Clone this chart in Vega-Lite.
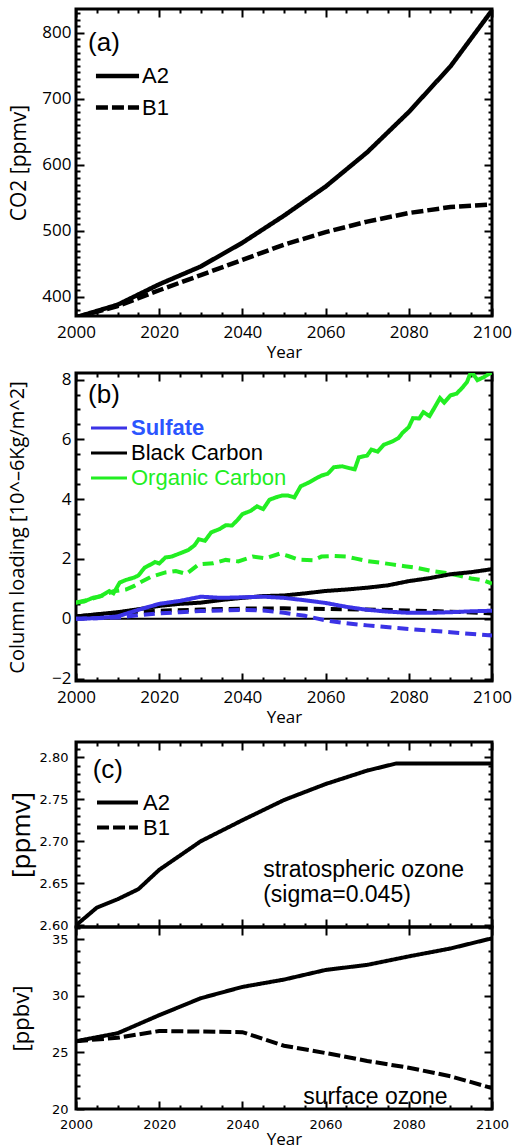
{
  "$schema": "https://vega.github.io/schema/vega-lite/v6.json",
  "padding": {"left": 6, "top": 6, "right": 0, "bottom": 0},
  "config": {
    "view": {"stroke": "black", "strokeWidth": 3},
    "axis": {"domain": false, "grid": false, "ticks": true, "tickColor": "black", "tickWidth": 2, "labelFont": "Open Sans", "labelFontSize": 17, "labelColor": "black", "labelFlush": false, "labelOverlap": false, "titleFont": "Open Sans", "titleFontSize": 21, "titleFontWeight": "normal", "titleColor": "black"},
    "axisX": {"titleFontSize": 17, "labelAngle": 0},
    "legend": {"padding": 0, "labelColor": "black"}
  },
  "datasets": {
    "co2": [
      {"scenario": "A2", "year": 2000, "value": 369}, {"scenario": "A2", "year": 2010, "value": 388}, {"scenario": "A2", "year": 2020, "value": 419}, {"scenario": "A2", "year": 2030, "value": 446}, {"scenario": "A2", "year": 2040, "value": 482}, {"scenario": "A2", "year": 2050, "value": 523}, {"scenario": "A2", "year": 2060, "value": 567}, {"scenario": "A2", "year": 2070, "value": 619}, {"scenario": "A2", "year": 2080, "value": 680}, {"scenario": "A2", "year": 2090, "value": 749}, {"scenario": "A2", "year": 2100, "value": 834},
      {"scenario": "B1", "year": 2000, "value": 369}, {"scenario": "B1", "year": 2010, "value": 386}, {"scenario": "B1", "year": 2020, "value": 410}, {"scenario": "B1", "year": 2030, "value": 433}, {"scenario": "B1", "year": 2040, "value": 456}, {"scenario": "B1", "year": 2050, "value": 479}, {"scenario": "B1", "year": 2060, "value": 498}, {"scenario": "B1", "year": 2070, "value": 514}, {"scenario": "B1", "year": 2080, "value": 527}, {"scenario": "B1", "year": 2090, "value": 536}, {"scenario": "B1", "year": 2100, "value": 540}
    ],
    "aer": [
      {"species": "Organic Carbon", "scenario": "A2", "year": 2000, "value": 0.54}, {"species": "Organic Carbon", "scenario": "A2", "year": 2002, "value": 0.58}, {"species": "Organic Carbon", "scenario": "A2", "year": 2004, "value": 0.7}, {"species": "Organic Carbon", "scenario": "A2", "year": 2006, "value": 0.76}, {"species": "Organic Carbon", "scenario": "A2", "year": 2008, "value": 0.93}, {"species": "Organic Carbon", "scenario": "A2", "year": 2009, "value": 0.85}, {"species": "Organic Carbon", "scenario": "A2", "year": 2010.5, "value": 1.21}, {"species": "Organic Carbon", "scenario": "A2", "year": 2012, "value": 1.3}, {"species": "Organic Carbon", "scenario": "A2", "year": 2014, "value": 1.38}, {"species": "Organic Carbon", "scenario": "A2", "year": 2015, "value": 1.45}, {"species": "Organic Carbon", "scenario": "A2", "year": 2016.5, "value": 1.71}, {"species": "Organic Carbon", "scenario": "A2", "year": 2018, "value": 1.82}, {"species": "Organic Carbon", "scenario": "A2", "year": 2019, "value": 1.9}, {"species": "Organic Carbon", "scenario": "A2", "year": 2020, "value": 1.85}, {"species": "Organic Carbon", "scenario": "A2", "year": 2021.5, "value": 2.05}, {"species": "Organic Carbon", "scenario": "A2", "year": 2023, "value": 2.08}, {"species": "Organic Carbon", "scenario": "A2", "year": 2025, "value": 2.19}, {"species": "Organic Carbon", "scenario": "A2", "year": 2027, "value": 2.3}, {"species": "Organic Carbon", "scenario": "A2", "year": 2028.5, "value": 2.46}, {"species": "Organic Carbon", "scenario": "A2", "year": 2029.5, "value": 2.66}, {"species": "Organic Carbon", "scenario": "A2", "year": 2031, "value": 2.61}, {"species": "Organic Carbon", "scenario": "A2", "year": 2032.5, "value": 2.89}, {"species": "Organic Carbon", "scenario": "A2", "year": 2034.5, "value": 3.0}, {"species": "Organic Carbon", "scenario": "A2", "year": 2036, "value": 3.13}, {"species": "Organic Carbon", "scenario": "A2", "year": 2037.5, "value": 3.12}, {"species": "Organic Carbon", "scenario": "A2", "year": 2039, "value": 3.33}, {"species": "Organic Carbon", "scenario": "A2", "year": 2040, "value": 3.5}, {"species": "Organic Carbon", "scenario": "A2", "year": 2042, "value": 3.61}, {"species": "Organic Carbon", "scenario": "A2", "year": 2043.5, "value": 3.76}, {"species": "Organic Carbon", "scenario": "A2", "year": 2045, "value": 3.67}, {"species": "Organic Carbon", "scenario": "A2", "year": 2046.5, "value": 3.98}, {"species": "Organic Carbon", "scenario": "A2", "year": 2048, "value": 4.06}, {"species": "Organic Carbon", "scenario": "A2", "year": 2049.5, "value": 4.12}, {"species": "Organic Carbon", "scenario": "A2", "year": 2051, "value": 4.12}, {"species": "Organic Carbon", "scenario": "A2", "year": 2052.5, "value": 4.06}, {"species": "Organic Carbon", "scenario": "A2", "year": 2054, "value": 4.43}, {"species": "Organic Carbon", "scenario": "A2", "year": 2056, "value": 4.56}, {"species": "Organic Carbon", "scenario": "A2", "year": 2057.5, "value": 4.68}, {"species": "Organic Carbon", "scenario": "A2", "year": 2059, "value": 4.79}, {"species": "Organic Carbon", "scenario": "A2", "year": 2060.5, "value": 4.85}, {"species": "Organic Carbon", "scenario": "A2", "year": 2062, "value": 5.07}, {"species": "Organic Carbon", "scenario": "A2", "year": 2064, "value": 5.1}, {"species": "Organic Carbon", "scenario": "A2", "year": 2066, "value": 5.03}, {"species": "Organic Carbon", "scenario": "A2", "year": 2067, "value": 5.0}, {"species": "Organic Carbon", "scenario": "A2", "year": 2068, "value": 5.4}, {"species": "Organic Carbon", "scenario": "A2", "year": 2070, "value": 5.46}, {"species": "Organic Carbon", "scenario": "A2", "year": 2071, "value": 5.66}, {"species": "Organic Carbon", "scenario": "A2", "year": 2072.5, "value": 5.59}, {"species": "Organic Carbon", "scenario": "A2", "year": 2074, "value": 5.82}, {"species": "Organic Carbon", "scenario": "A2", "year": 2076, "value": 5.93}, {"species": "Organic Carbon", "scenario": "A2", "year": 2077.5, "value": 6.04}, {"species": "Organic Carbon", "scenario": "A2", "year": 2078.5, "value": 6.22}, {"species": "Organic Carbon", "scenario": "A2", "year": 2080, "value": 6.41}, {"species": "Organic Carbon", "scenario": "A2", "year": 2081, "value": 6.71}, {"species": "Organic Carbon", "scenario": "A2", "year": 2082.5, "value": 6.7}, {"species": "Organic Carbon", "scenario": "A2", "year": 2083.5, "value": 6.91}, {"species": "Organic Carbon", "scenario": "A2", "year": 2085, "value": 6.78}, {"species": "Organic Carbon", "scenario": "A2", "year": 2086, "value": 7.02}, {"species": "Organic Carbon", "scenario": "A2", "year": 2087.5, "value": 7.38}, {"species": "Organic Carbon", "scenario": "A2", "year": 2088.5, "value": 7.23}, {"species": "Organic Carbon", "scenario": "A2", "year": 2090, "value": 7.47}, {"species": "Organic Carbon", "scenario": "A2", "year": 2091.5, "value": 7.53}, {"species": "Organic Carbon", "scenario": "A2", "year": 2093, "value": 7.75}, {"species": "Organic Carbon", "scenario": "A2", "year": 2094, "value": 7.92}, {"species": "Organic Carbon", "scenario": "A2", "year": 2095, "value": 8.28}, {"species": "Organic Carbon", "scenario": "A2", "year": 2096.5, "value": 7.98}, {"species": "Organic Carbon", "scenario": "A2", "year": 2098, "value": 8.08}, {"species": "Organic Carbon", "scenario": "A2", "year": 2100, "value": 8.25},
      {"species": "Organic Carbon", "scenario": "B1", "year": 2000, "value": 0.54}, {"species": "Organic Carbon", "scenario": "B1", "year": 2003, "value": 0.64}, {"species": "Organic Carbon", "scenario": "B1", "year": 2006, "value": 0.76}, {"species": "Organic Carbon", "scenario": "B1", "year": 2009, "value": 0.92}, {"species": "Organic Carbon", "scenario": "B1", "year": 2012, "value": 0.98}, {"species": "Organic Carbon", "scenario": "B1", "year": 2014, "value": 1.1}, {"species": "Organic Carbon", "scenario": "B1", "year": 2015.5, "value": 1.22}, {"species": "Organic Carbon", "scenario": "B1", "year": 2018, "value": 1.4}, {"species": "Organic Carbon", "scenario": "B1", "year": 2021.5, "value": 1.55}, {"species": "Organic Carbon", "scenario": "B1", "year": 2024, "value": 1.6}, {"species": "Organic Carbon", "scenario": "B1", "year": 2026.5, "value": 1.5}, {"species": "Organic Carbon", "scenario": "B1", "year": 2029.5, "value": 1.82}, {"species": "Organic Carbon", "scenario": "B1", "year": 2033, "value": 1.86}, {"species": "Organic Carbon", "scenario": "B1", "year": 2036, "value": 1.97}, {"species": "Organic Carbon", "scenario": "B1", "year": 2039, "value": 1.92}, {"species": "Organic Carbon", "scenario": "B1", "year": 2042.5, "value": 2.08}, {"species": "Organic Carbon", "scenario": "B1", "year": 2045.5, "value": 2.02}, {"species": "Organic Carbon", "scenario": "B1", "year": 2049, "value": 2.18}, {"species": "Organic Carbon", "scenario": "B1", "year": 2051, "value": 2.1}, {"species": "Organic Carbon", "scenario": "B1", "year": 2053.5, "value": 1.98}, {"species": "Organic Carbon", "scenario": "B1", "year": 2057, "value": 1.96}, {"species": "Organic Carbon", "scenario": "B1", "year": 2059, "value": 2.08}, {"species": "Organic Carbon", "scenario": "B1", "year": 2062, "value": 2.1}, {"species": "Organic Carbon", "scenario": "B1", "year": 2065, "value": 2.08}, {"species": "Organic Carbon", "scenario": "B1", "year": 2067, "value": 2.02}, {"species": "Organic Carbon", "scenario": "B1", "year": 2070, "value": 1.93}, {"species": "Organic Carbon", "scenario": "B1", "year": 2073, "value": 1.88}, {"species": "Organic Carbon", "scenario": "B1", "year": 2076, "value": 1.82}, {"species": "Organic Carbon", "scenario": "B1", "year": 2079, "value": 1.76}, {"species": "Organic Carbon", "scenario": "B1", "year": 2082, "value": 1.7}, {"species": "Organic Carbon", "scenario": "B1", "year": 2085.5, "value": 1.6}, {"species": "Organic Carbon", "scenario": "B1", "year": 2089, "value": 1.53}, {"species": "Organic Carbon", "scenario": "B1", "year": 2092, "value": 1.45}, {"species": "Organic Carbon", "scenario": "B1", "year": 2095, "value": 1.35}, {"species": "Organic Carbon", "scenario": "B1", "year": 2098, "value": 1.28}, {"species": "Organic Carbon", "scenario": "B1", "year": 2100, "value": 1.18},
      {"species": "Black Carbon", "scenario": "A2", "year": 2000, "value": 0.08}, {"species": "Black Carbon", "scenario": "A2", "year": 2005, "value": 0.15}, {"species": "Black Carbon", "scenario": "A2", "year": 2010, "value": 0.22}, {"species": "Black Carbon", "scenario": "A2", "year": 2015, "value": 0.32}, {"species": "Black Carbon", "scenario": "A2", "year": 2020, "value": 0.43}, {"species": "Black Carbon", "scenario": "A2", "year": 2025, "value": 0.5}, {"species": "Black Carbon", "scenario": "A2", "year": 2030, "value": 0.54}, {"species": "Black Carbon", "scenario": "A2", "year": 2035, "value": 0.63}, {"species": "Black Carbon", "scenario": "A2", "year": 2040, "value": 0.7}, {"species": "Black Carbon", "scenario": "A2", "year": 2045, "value": 0.76}, {"species": "Black Carbon", "scenario": "A2", "year": 2050, "value": 0.78}, {"species": "Black Carbon", "scenario": "A2", "year": 2055, "value": 0.85}, {"species": "Black Carbon", "scenario": "A2", "year": 2060, "value": 0.93}, {"species": "Black Carbon", "scenario": "A2", "year": 2065, "value": 0.98}, {"species": "Black Carbon", "scenario": "A2", "year": 2070, "value": 1.04}, {"species": "Black Carbon", "scenario": "A2", "year": 2075, "value": 1.12}, {"species": "Black Carbon", "scenario": "A2", "year": 2080, "value": 1.26}, {"species": "Black Carbon", "scenario": "A2", "year": 2085, "value": 1.36}, {"species": "Black Carbon", "scenario": "A2", "year": 2090, "value": 1.49}, {"species": "Black Carbon", "scenario": "A2", "year": 2095, "value": 1.56}, {"species": "Black Carbon", "scenario": "A2", "year": 2100, "value": 1.66},
      {"species": "Black Carbon", "scenario": "B1", "year": 2000, "value": 0.08}, {"species": "Black Carbon", "scenario": "B1", "year": 2010, "value": 0.2}, {"species": "Black Carbon", "scenario": "B1", "year": 2020, "value": 0.27}, {"species": "Black Carbon", "scenario": "B1", "year": 2030, "value": 0.31}, {"species": "Black Carbon", "scenario": "B1", "year": 2040, "value": 0.34}, {"species": "Black Carbon", "scenario": "B1", "year": 2050, "value": 0.35}, {"species": "Black Carbon", "scenario": "B1", "year": 2060, "value": 0.33}, {"species": "Black Carbon", "scenario": "B1", "year": 2070, "value": 0.31}, {"species": "Black Carbon", "scenario": "B1", "year": 2080, "value": 0.28}, {"species": "Black Carbon", "scenario": "B1", "year": 2090, "value": 0.24}, {"species": "Black Carbon", "scenario": "B1", "year": 2100, "value": 0.18},
      {"species": "Sulfate", "scenario": "A2", "year": 2000, "value": 0.0}, {"species": "Sulfate", "scenario": "A2", "year": 2005, "value": 0.02}, {"species": "Sulfate", "scenario": "A2", "year": 2010, "value": 0.08}, {"species": "Sulfate", "scenario": "A2", "year": 2015, "value": 0.3}, {"species": "Sulfate", "scenario": "A2", "year": 2020, "value": 0.5}, {"species": "Sulfate", "scenario": "A2", "year": 2025, "value": 0.6}, {"species": "Sulfate", "scenario": "A2", "year": 2030, "value": 0.74}, {"species": "Sulfate", "scenario": "A2", "year": 2035, "value": 0.7}, {"species": "Sulfate", "scenario": "A2", "year": 2040, "value": 0.72}, {"species": "Sulfate", "scenario": "A2", "year": 2045, "value": 0.74}, {"species": "Sulfate", "scenario": "A2", "year": 2050, "value": 0.7}, {"species": "Sulfate", "scenario": "A2", "year": 2055, "value": 0.62}, {"species": "Sulfate", "scenario": "A2", "year": 2060, "value": 0.53}, {"species": "Sulfate", "scenario": "A2", "year": 2065, "value": 0.4}, {"species": "Sulfate", "scenario": "A2", "year": 2070, "value": 0.3}, {"species": "Sulfate", "scenario": "A2", "year": 2075, "value": 0.24}, {"species": "Sulfate", "scenario": "A2", "year": 2080, "value": 0.2}, {"species": "Sulfate", "scenario": "A2", "year": 2085, "value": 0.2}, {"species": "Sulfate", "scenario": "A2", "year": 2090, "value": 0.22}, {"species": "Sulfate", "scenario": "A2", "year": 2095, "value": 0.25}, {"species": "Sulfate", "scenario": "A2", "year": 2100, "value": 0.27},
      {"species": "Sulfate", "scenario": "B1", "year": 2000, "value": 0.0}, {"species": "Sulfate", "scenario": "B1", "year": 2010, "value": 0.04}, {"species": "Sulfate", "scenario": "B1", "year": 2015, "value": 0.12}, {"species": "Sulfate", "scenario": "B1", "year": 2020, "value": 0.18}, {"species": "Sulfate", "scenario": "B1", "year": 2025, "value": 0.22}, {"species": "Sulfate", "scenario": "B1", "year": 2030, "value": 0.26}, {"species": "Sulfate", "scenario": "B1", "year": 2035, "value": 0.28}, {"species": "Sulfate", "scenario": "B1", "year": 2040, "value": 0.3}, {"species": "Sulfate", "scenario": "B1", "year": 2045, "value": 0.28}, {"species": "Sulfate", "scenario": "B1", "year": 2050, "value": 0.2}, {"species": "Sulfate", "scenario": "B1", "year": 2055, "value": 0.1}, {"species": "Sulfate", "scenario": "B1", "year": 2060, "value": -0.05}, {"species": "Sulfate", "scenario": "B1", "year": 2065, "value": -0.15}, {"species": "Sulfate", "scenario": "B1", "year": 2070, "value": -0.22}, {"species": "Sulfate", "scenario": "B1", "year": 2080, "value": -0.34}, {"species": "Sulfate", "scenario": "B1", "year": 2090, "value": -0.45}, {"species": "Sulfate", "scenario": "B1", "year": 2100, "value": -0.56}
    ],
    "strat": [
      {"scenario": "A2", "year": 2000, "value": 2.6}, {"scenario": "A2", "year": 2005, "value": 2.621}, {"scenario": "A2", "year": 2010, "value": 2.631}, {"scenario": "A2", "year": 2015, "value": 2.643}, {"scenario": "A2", "year": 2020, "value": 2.666}, {"scenario": "A2", "year": 2030, "value": 2.7}, {"scenario": "A2", "year": 2040, "value": 2.725}, {"scenario": "A2", "year": 2050, "value": 2.749}, {"scenario": "A2", "year": 2060, "value": 2.768}, {"scenario": "A2", "year": 2070, "value": 2.784}, {"scenario": "A2", "year": 2077, "value": 2.7925}, {"scenario": "A2", "year": 2100, "value": 2.7925}
    ],
    "surf": [
      {"scenario": "A2", "year": 2000, "value": 26.0}, {"scenario": "A2", "year": 2010, "value": 26.7}, {"scenario": "A2", "year": 2020, "value": 28.3}, {"scenario": "A2", "year": 2030, "value": 29.8}, {"scenario": "A2", "year": 2040, "value": 30.8}, {"scenario": "A2", "year": 2050, "value": 31.45}, {"scenario": "A2", "year": 2060, "value": 32.3}, {"scenario": "A2", "year": 2070, "value": 32.75}, {"scenario": "A2", "year": 2080, "value": 33.5}, {"scenario": "A2", "year": 2090, "value": 34.2}, {"scenario": "A2", "year": 2100, "value": 35.1},
      {"scenario": "B1", "year": 2000, "value": 26.0}, {"scenario": "B1", "year": 2010, "value": 26.3}, {"scenario": "B1", "year": 2020, "value": 26.9}, {"scenario": "B1", "year": 2030, "value": 26.85}, {"scenario": "B1", "year": 2040, "value": 26.8}, {"scenario": "B1", "year": 2050, "value": 25.6}, {"scenario": "B1", "year": 2060, "value": 24.95}, {"scenario": "B1", "year": 2070, "value": 24.25}, {"scenario": "B1", "year": 2080, "value": 23.65}, {"scenario": "B1", "year": 2090, "value": 22.9}, {"scenario": "B1", "year": 2100, "value": 21.85}
    ]
  },
  "spacing": 12,
  "resolve": {"scale": {"strokeDash": "independent", "color": "independent"}, "legend": {"strokeDash": "independent", "color": "independent"}},
  "vconcat": [
    {
      "spacing": 7,
      "resolve": {"scale": {"strokeDash": "independent", "color": "independent"}, "legend": {"strokeDash": "independent", "color": "independent"}},
      "vconcat": [
        {
          "width": 416, "height": 307,
          "data": {"name": "co2"},
          "layer": [
            {
              "mark": {"type": "line", "color": "black", "strokeWidth": 4.5, "clip": true},
              "encoding": {
                "x": {"field": "year", "type": "quantitative", "scale": {"domain": [2000, 2100], "nice": false, "zero": false}, "axis": {"orient": "bottom", "values": [2000, 2020, 2040, 2060, 2080, 2100], "format": "d", "tickSize": -8, "labelPadding": 16, "title": "Year", "titlePadding": 4}},
                "y": {"field": "value", "type": "quantitative", "scale": {"domain": [371, 836], "nice": false, "zero": false}, "axis": {"orient": "left", "values": [400, 500, 600, 700, 800], "format": "d", "tickSize": -8, "labelPadding": 13, "title": "CO2 [ppmv]", "titlePadding": 12}},
                "strokeDash": {"field": "scenario", "type": "nominal", "scale": {"domain": ["A2", "B1"], "range": [[1, 0], [12, 4]]}, "legend": {"orient": "none", "legendX": 26.5, "legendY": 52, "title": null, "symbolType": "M-1.69,0H1.69", "symbolSize": 650, "symbolStrokeWidth": 4.5, "symbolStrokeColor": "black", "symbolFillColor": "transparent", "labelFont": "Liberation Sans", "labelFontSize": 22, "labelOffset": 9.5, "rowPadding": 5.5}}
              }
            },
            {
              "mark": {"type": "line", "opacity": 0},
              "encoding": {
                "x": {"field": "year", "type": "quantitative", "axis": {"orient": "bottom", "values": [2005, 2010, 2015, 2025, 2030, 2035, 2045, 2050, 2055, 2065, 2070, 2075, 2085, 2090, 2095], "tickSize": -4, "labels": false, "title": null}},
                "y": {"field": "value", "type": "quantitative", "axis": {"orient": "left", "values": [380, 390, 410, 420, 430, 440, 450, 460, 470, 480, 490, 510, 520, 530, 540, 550, 560, 570, 580, 590, 610, 620, 630, 640, 650, 660, 670, 680, 690, 710, 720, 730, 740, 750, 760, 770, 780, 790, 810, 820, 830], "tickSize": -4, "labels": false, "title": null}}
              }
            },
            {
              "mark": {"type": "line", "opacity": 0},
              "encoding": {
                "x": {"field": "year", "type": "quantitative", "axis": {"orient": "top", "values": [2000, 2020, 2040, 2060, 2080, 2100], "tickSize": -8, "labels": false, "title": null}},
                "y": {"field": "value", "type": "quantitative", "axis": {"orient": "right", "values": [400, 500, 600, 700, 800], "tickSize": -8, "labels": false, "title": null}}
              }
            },
            {
              "mark": {"type": "line", "opacity": 0},
              "encoding": {
                "x": {"field": "year", "type": "quantitative", "axis": {"orient": "top", "values": [2005, 2010, 2015, 2025, 2030, 2035, 2045, 2050, 2055, 2065, 2070, 2075, 2085, 2090, 2095], "tickSize": -4, "labels": false, "title": null}},
                "y": {"field": "value", "type": "quantitative", "axis": {"orient": "right", "values": [380, 390, 410, 420, 430, 440, 450, 460, 470, 480, 490, 510, 520, 530, 540, 550, 560, 570, 580, 590, 610, 620, 630, 640, 650, 660, 670, 680, 690, 710, 720, 730, 740, 750, 760, 770, 780, 790, 810, 820, 830], "tickSize": -4, "labels": false, "title": null}}
              }
            },
            {
              "data": {"values": [{}]},
              "mark": {"type": "text", "text": "(a)", "font": "Liberation Sans", "fontSize": 26, "align": "left", "baseline": "middle", "color": "black"},
              "encoding": {
                "x": {"datum": 2002.9, "type": "quantitative", "axis": null},
                "y": {"datum": 785, "type": "quantitative", "axis": null}
              }
            }
          ],
          "resolve": {"axis": {"x": "independent", "y": "independent"}}
        },
        {
          "width": 416, "height": 308,
          "data": {"name": "aer"},
          "layer": [
            {
              "data": {"values": [{}]},
              "mark": {"type": "rule", "color": "black", "strokeWidth": 2},
              "encoding": {"y": {"datum": 0, "type": "quantitative", "axis": null}}
            },
            {
              "mark": {"type": "line", "strokeWidth": 4, "clip": true},
              "encoding": {
                "x": {"field": "year", "type": "quantitative", "scale": {"domain": [2000, 2100], "nice": false, "zero": false}, "axis": {"orient": "bottom", "values": [2000, 2020, 2040, 2060, 2080, 2100], "format": "d", "tickSize": -8, "labelPadding": 16, "title": "Year", "titlePadding": 4}},
                "y": {"field": "value", "type": "quantitative", "scale": {"domain": [-2.08, 8.22], "nice": false, "zero": false}, "axis": {"orient": "left", "values": [-2, 0, 2, 4, 6, 8], "format": "d", "tickSize": -8, "labelPadding": 13, "title": "Column loading [10^–6Kg/m^2]", "titlePadding": 24, "titleFontSize": 20}},
                "color": {"field": "species", "type": "nominal", "scale": {"domain": ["Sulfate", "Black Carbon", "Organic Carbon"], "range": ["#3b33e6", "#000000", "#22ee22"]}, "legend": {"orient": "none", "legendX": 19, "legendY": 41, "title": null, "symbolType": "M-1.44,0H1.44", "symbolSize": 625, "symbolStrokeWidth": 3, "symbolDash": [1, 0], "symbolFillColor": "transparent", "labelFont": "Liberation Sans", "labelFontSize": 22, "labelOffset": 8, "rowPadding": 0, "encode": {"labels": {"update": {"fill": {"signal": "datum.label === 'Sulfate' ? '#2b55ff' : (datum.label === 'Organic Carbon' ? '#22ee22' : 'black')"}, "fontWeight": {"signal": "datum.label === 'Sulfate' ? 'bold' : 'normal'"}}}}}},
                "strokeDash": {"field": "scenario", "type": "nominal", "scale": {"domain": ["A2", "B1"], "range": [[1, 0], [11, 6]]}, "legend": null}
              }
            },
            {
              "mark": {"type": "line", "opacity": 0},
              "encoding": {
                "x": {"field": "year", "type": "quantitative", "axis": {"orient": "bottom", "values": [2005, 2010, 2015, 2025, 2030, 2035, 2045, 2050, 2055, 2065, 2070, 2075, 2085, 2090, 2095], "tickSize": -4, "labels": false, "title": null}},
                "y": {"field": "value", "type": "quantitative", "axis": {"orient": "left", "values": [-1.5, -1, -0.5, 0.5, 1, 1.5, 2.5, 3, 3.5, 4.5, 5, 5.5, 6.5, 7, 7.5], "tickSize": -4, "labels": false, "title": null}}
              }
            },
            {
              "mark": {"type": "line", "opacity": 0},
              "encoding": {
                "x": {"field": "year", "type": "quantitative", "axis": {"orient": "top", "values": [2000, 2020, 2040, 2060, 2080, 2100], "tickSize": -8, "labels": false, "title": null}},
                "y": {"field": "value", "type": "quantitative", "axis": {"orient": "right", "values": [-2, 0, 2, 4, 6, 8], "tickSize": -8, "labels": false, "title": null}}
              }
            },
            {
              "mark": {"type": "line", "opacity": 0},
              "encoding": {
                "x": {"field": "year", "type": "quantitative", "axis": {"orient": "top", "values": [2005, 2010, 2015, 2025, 2030, 2035, 2045, 2050, 2055, 2065, 2070, 2075, 2085, 2090, 2095], "tickSize": -4, "labels": false, "title": null}},
                "y": {"field": "value", "type": "quantitative", "axis": {"orient": "right", "values": [-1.5, -1, -0.5, 0.5, 1, 1.5, 2.5, 3, 3.5, 4.5, 5, 5.5, 6.5, 7, 7.5], "tickSize": -4, "labels": false, "title": null}}
              }
            },
            {
              "data": {"values": [{}]},
              "mark": {"type": "text", "text": "(b)", "font": "Liberation Sans", "fontSize": 26, "align": "left", "baseline": "middle", "color": "black"},
              "encoding": {
                "x": {"datum": 2002.9, "type": "quantitative", "axis": null},
                "y": {"datum": 7.48, "type": "quantitative", "axis": null}
              }
            }
          ],
          "resolve": {"axis": {"x": "independent", "y": "independent"}}
        }
      ]
    },
    {
      "spacing": 0,
      "bounds": "flush",
      "resolve": {"scale": {"strokeDash": "independent", "color": "independent"}, "legend": {"strokeDash": "independent", "color": "independent"}},
      "vconcat": [
        {
          "width": 416, "height": 185,
          "data": {"name": "strat"},
          "layer": [
            {
              "mark": {"type": "line", "color": "black", "strokeWidth": 4, "clip": true},
              "encoding": {
                "x": {"field": "year", "type": "quantitative", "scale": {"domain": [2000, 2100], "nice": false, "zero": false}, "axis": {"orient": "bottom", "values": [2000, 2020, 2040, 2060, 2080, 2100], "tickSize": -8, "labels": false, "title": null}},
                "y": {"field": "value", "type": "quantitative", "scale": {"domain": [2.598, 2.818], "nice": false, "zero": false}, "axis": {"orient": "left", "values": [2.6, 2.65, 2.7, 2.75, 2.8], "format": ".2f", "tickSize": -8, "labelPadding": 16, "labelFont": "DejaVu Sans", "labelFontSize": 13, "title": "[ppmv]", "titlePadding": 5, "titleFontSize": 26}},
                "strokeDash": {"field": "scenario", "type": "nominal", "scale": {"domain": ["A2", "B1"], "range": [[1, 0], [12, 4]]}, "legend": {"orient": "none", "legendX": 28, "legendY": 47, "title": null, "symbolType": "M-1.78,0H1.78", "symbolSize": 529, "symbolStrokeWidth": 4, "symbolStrokeColor": "black", "symbolFillColor": "transparent", "labelFont": "Liberation Sans", "labelFontSize": 22, "labelOffset": 12, "rowPadding": 0}}
              }
            },
            {
              "mark": {"type": "line", "opacity": 0},
              "encoding": {
                "x": {"field": "year", "type": "quantitative", "axis": {"orient": "bottom", "values": [2005, 2010, 2015, 2025, 2030, 2035, 2045, 2050, 2055, 2065, 2070, 2075, 2085, 2090, 2095], "tickSize": -4, "labels": false, "title": null}},
                "y": {"field": "value", "type": "quantitative", "axis": {"orient": "left", "values": [2.61, 2.62, 2.63, 2.64, 2.66, 2.67, 2.68, 2.69, 2.71, 2.72, 2.73, 2.74, 2.76, 2.77, 2.78, 2.79, 2.81], "tickSize": -4, "labels": false, "title": null}}
              }
            },
            {
              "mark": {"type": "line", "opacity": 0},
              "encoding": {
                "x": {"field": "year", "type": "quantitative", "axis": {"orient": "top", "values": [2000, 2020, 2040, 2060, 2080, 2100], "tickSize": -8, "labels": false, "title": null}},
                "y": {"field": "value", "type": "quantitative", "axis": {"orient": "right", "values": [2.6, 2.65, 2.7, 2.75, 2.8], "tickSize": -8, "labels": false, "title": null}}
              }
            },
            {
              "mark": {"type": "line", "opacity": 0},
              "encoding": {
                "x": {"field": "year", "type": "quantitative", "axis": {"orient": "top", "values": [2005, 2010, 2015, 2025, 2030, 2035, 2045, 2050, 2055, 2065, 2070, 2075, 2085, 2090, 2095], "tickSize": -4, "labels": false, "title": null}},
                "y": {"field": "value", "type": "quantitative", "axis": {"orient": "right", "values": [2.61, 2.62, 2.63, 2.64, 2.66, 2.67, 2.68, 2.69, 2.71, 2.72, 2.73, 2.74, 2.76, 2.77, 2.78, 2.79, 2.81], "tickSize": -4, "labels": false, "title": null}}
              }
            },
            {
              "data": {"values": [{}]},
              "mark": {"type": "text", "text": "(c)", "font": "Liberation Sans", "fontSize": 26, "align": "left", "baseline": "middle", "color": "black"},
              "encoding": {
                "x": {"datum": 2004, "type": "quantitative", "axis": null},
                "y": {"datum": 2.785, "type": "quantitative", "axis": null}
              }
            },
            {
              "data": {"values": [{}]},
              "mark": {"type": "text", "text": "stratospheric ozone", "font": "Liberation Sans", "fontSize": 23, "align": "left", "baseline": "middle", "color": "black"},
              "encoding": {
                "x": {"datum": 2045, "type": "quantitative", "axis": null},
                "y": {"datum": 2.666, "type": "quantitative", "axis": null}
              }
            },
            {
              "data": {"values": [{}]},
              "mark": {"type": "text", "text": "(sigma=0.045)", "font": "Liberation Sans", "fontSize": 23, "align": "left", "baseline": "middle", "color": "black"},
              "encoding": {
                "x": {"datum": 2045, "type": "quantitative", "axis": null},
                "y": {"datum": 2.6365, "type": "quantitative", "axis": null}
              }
            }
          ],
          "resolve": {"axis": {"x": "independent", "y": "independent"}}
        },
        {
          "width": 416, "height": 182,
          "data": {"name": "surf"},
          "layer": [
            {
              "mark": {"type": "line", "color": "black", "strokeWidth": 4, "clip": true},
              "encoding": {
                "x": {"field": "year", "type": "quantitative", "scale": {"domain": [2000, 2100], "nice": false, "zero": false}, "axis": {"orient": "bottom", "values": [2000, 2020, 2040, 2060, 2080, 2100], "format": "d", "tickSize": -8, "labelPadding": 17, "labelFont": "DejaVu Sans", "labelFontSize": 13, "title": "Year", "titlePadding": 0}},
                "y": {"field": "value", "type": "quantitative", "scale": {"domain": [20, 36.1], "nice": false, "zero": false}, "axis": {"orient": "left", "values": [20, 25, 30, 35], "format": "d", "tickSize": -8, "labelPadding": 16, "labelFont": "DejaVu Sans", "labelFontSize": 13, "title": "[ppbv]", "titlePadding": 18, "titleFontSize": 22}},
                "strokeDash": {"field": "scenario", "type": "nominal", "scale": {"domain": ["A2", "B1"], "range": [[1, 0], [12, 4]]}, "legend": null}
              }
            },
            {
              "mark": {"type": "line", "opacity": 0},
              "encoding": {
                "x": {"field": "year", "type": "quantitative", "axis": {"orient": "bottom", "values": [2005, 2010, 2015, 2025, 2030, 2035, 2045, 2050, 2055, 2065, 2070, 2075, 2085, 2090, 2095], "tickSize": -4, "labels": false, "title": null}},
                "y": {"field": "value", "type": "quantitative", "axis": {"orient": "left", "values": [21, 22, 23, 24, 26, 27, 28, 29, 31, 32, 33, 34, 36], "tickSize": -4, "labels": false, "title": null}}
              }
            },
            {
              "mark": {"type": "line", "opacity": 0},
              "encoding": {
                "x": {"field": "year", "type": "quantitative", "axis": {"orient": "top", "values": [2000, 2020, 2040, 2060, 2080, 2100], "tickSize": -8, "labels": false, "title": null}},
                "y": {"field": "value", "type": "quantitative", "axis": {"orient": "right", "values": [20, 25, 30, 35], "tickSize": -8, "labels": false, "title": null}}
              }
            },
            {
              "mark": {"type": "line", "opacity": 0},
              "encoding": {
                "y": {"field": "value", "type": "quantitative", "axis": {"orient": "right", "values": [21, 22, 23, 24, 26, 27, 28, 29, 31, 32, 33, 34, 36], "tickSize": -4, "labels": false, "title": null}}
              }
            },
            {
              "data": {"values": [{}]},
              "mark": {"type": "text", "text": "surface ozone", "font": "Liberation Sans", "fontSize": 23, "align": "left", "baseline": "middle", "color": "black"},
              "encoding": {
                "x": {"datum": 2054.6, "type": "quantitative", "axis": null},
                "y": {"datum": 21.06, "type": "quantitative", "axis": null}
              }
            }
          ],
          "resolve": {"axis": {"x": "independent", "y": "independent"}}
        }
      ]
    }
  ]
}
